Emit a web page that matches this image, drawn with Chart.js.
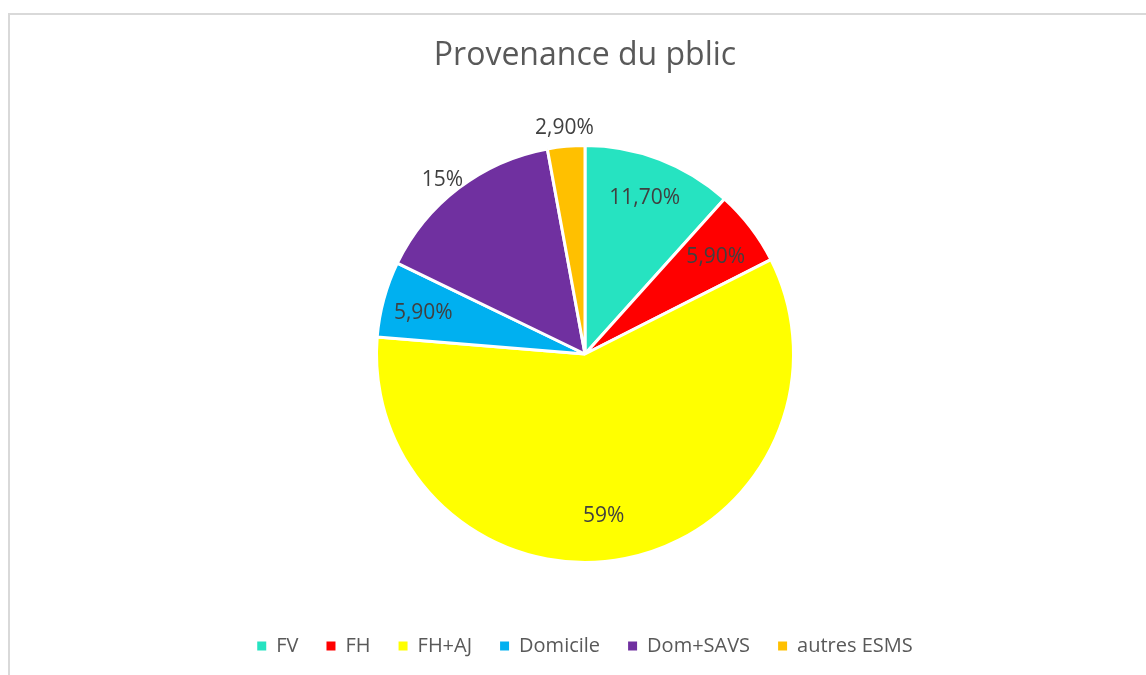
<!DOCTYPE html>
<html>
<head>
<meta charset="utf-8">
<script src="https://cdn.jsdelivr.net/npm/chart.js@4"></script>
<style>
  html, body { margin: 0; padding: 0; background: #ffffff; overflow: hidden; }
  #wrap { position: relative; width: 1146px; height: 675px; }
</style>
</head>
<body>
<div id="wrap"><canvas id="c" width="1146" height="675"></canvas></div>
<script>
// ---- data ----
const categories = ['FV', 'FH', 'FH+AJ', 'Domicile', 'Dom+SAVS', 'autres ESMS'];
const values = [11.7, 5.9, 59, 5.9, 15, 2.9];
const valueLabels = ['11,70%', '5,90%', '59%', '5,90%', '15%', '2,90%'];
const sliceColors = ['#26E3C1', '#FF0000', '#FFFF00', '#00B0F0', '#7030A0', '#FFC000'];

// ---- label placement styles (fraction of radius, angle shift in degrees) ----
const labelRadius = [0.80, 0.78, 0.78, 0.80, 1.08, 1.09];
const labelAngleShift = [0, 1, 4.5, -1, -2, 0];

const framePlugin = {
  id: 'frame',
  beforeDraw(chart) {
    const ctx = chart.ctx;
    ctx.save();
    ctx.fillStyle = '#d9d9d9';
    ctx.fillRect(8, 13, 2, chart.height - 13);
    ctx.fillRect(8, 13, chart.width - 8, 2);
    ctx.restore();
  }
};

const dataLabelPlugin = {
  id: 'dataLabels',
  afterDatasetsDraw(chart) {
    const ctx = chart.ctx;
    const meta = chart.getDatasetMeta(0);
    ctx.save();
    ctx.font = '21px "Open Sans"';
    ctx.fillStyle = '#404040';
    ctx.textAlign = 'center';
    ctx.textBaseline = 'middle';
    meta.data.forEach((arc, i) => {
      const p = arc.getProps(['x', 'y', 'startAngle', 'endAngle', 'outerRadius'], true);
      const mid = (p.startAngle + p.endAngle) / 2 + labelAngleShift[i] * Math.PI / 180;
      const r = p.outerRadius * labelRadius[i];
      ctx.fillText(valueLabels[i], p.x + Math.cos(mid) * r, p.y + Math.sin(mid) * r);
    });
    ctx.restore();
  }
};

new Chart(document.getElementById('c'), {
  type: 'pie',
  data: {
    labels: categories,
    datasets: [{
      data: values,
      backgroundColor: sliceColors,
      borderColor: '#ffffff',
      borderWidth: 3
    }]
  },
  options: {
    responsive: false,
    animation: false,
    radius: 208.5,
    layout: { padding: { left: 24, right: 0, top: 0, bottom: 9 } },
    plugins: {
      tooltip: { enabled: false },
      title: {
        display: true,
        text: 'Provenance du pblic',
        color: '#595959',
        font: { family: '"Open Sans"', size: 32, weight: 'normal', lineHeight: 1.2 },
        padding: { top: 37, bottom: 24.6 }
      },
      legend: {
        position: 'bottom',
        labels: {
          color: '#595959',
          font: { family: '"Open Sans"', size: 20 },
          boxWidth: 9,
          boxHeight: 9,
          padding: 28,
          generateLabels(chart) {
            const items = Chart.overrides.pie.plugins.legend.labels.generateLabels(chart);
            return items.map(it => Object.assign(it, { lineWidth: 0, strokeStyle: it.fillStyle }));
          }
        }
      }
    }
  },
  plugins: [framePlugin, dataLabelPlugin]
});
</script>
</body>
</html>
